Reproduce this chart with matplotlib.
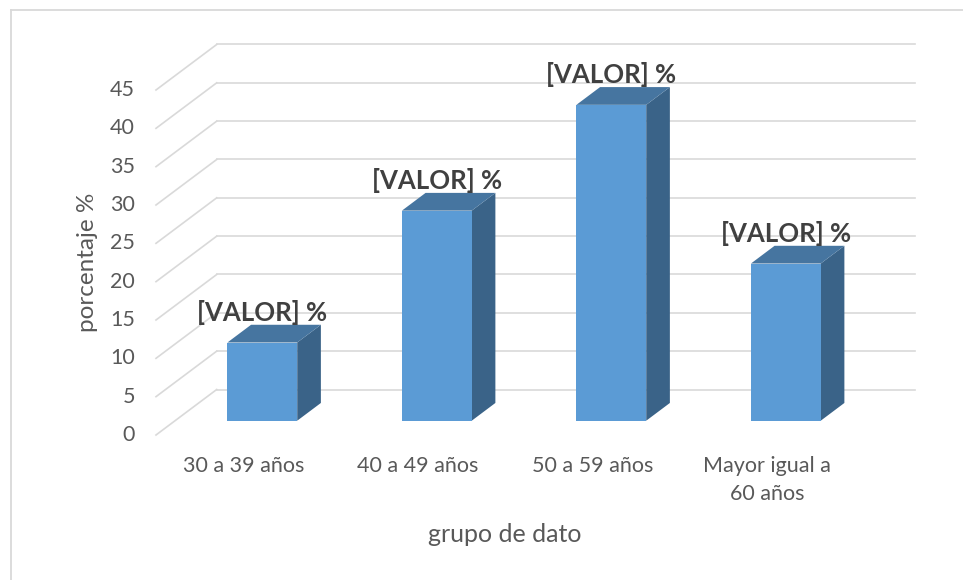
import matplotlib.pyplot as plt
from matplotlib.patches import Polygon, Rectangle
from matplotlib.lines import Line2D

# datos
categorias = ['30 a 39 años', '40 a 49 años', '50 a 59 años', 'Mayor igual a\n60 años']
valores = [10.2, 27.4, 41.2, 20.5]
ticks_y = [0, 5, 10, 15, 20, 25, 30, 35, 40, 45]
etiqueta = '[VALOR] %'

plt.rcParams['font.family'] = ['Lato', 'DejaVu Sans']

W, H = 963, 580
fig = plt.figure(figsize=(W / 100, H / 100), dpi=100)

# caja del área de trazado en pixeles (plano frontal)
x_izq, x_der, y_sup, y_inf = 156, 915, 45, 435
ax = fig.add_axes([x_izq / W, 1 - y_inf / H, (x_der - x_izq) / W, (y_inf - y_sup) / H])
px_cat = 174.5
px_val = 7.667
ax.set_xlim(0, (x_der - x_izq) / px_cat)
ax.set_ylim(0, (y_inf - y_sup) / px_val)
ax.axis('off')

# profundidad (oblicua)
DX = 60.7 / px_cat
DY = 45.5 / px_val
n = len(categorias)
grid_c = '#D9D9D9'

for v in ticks_y:
    ax.plot([0, DX], [v, v + DY], color=grid_c, lw=1.2, clip_on=False, zorder=1)
    ax.plot([DX, DX + n], [v + DY, v + DY], color=grid_c, lw=1.2, clip_on=False, zorder=1)
    ax.text(-0.12, v, str(v), ha='right', va='center', fontsize=15.5, color='#595959')

f = 0.314   # posición de la cara frontal en la profundidad
bd = 0.39   # profundidad de la barra
ancho = 0.4
c_front, c_top, c_side = '#5B9BD5', '#4675A0', '#3A6388'

for i, v in enumerate(valores):
    x0 = i + 0.5 - ancho / 2 + f * DX
    y0 = f * DY
    ox, oy = bd * DX, bd * DY
    ax.add_patch(Polygon([(x0 + ancho, y0), (x0 + ancho + ox, y0 + oy),
                          (x0 + ancho + ox, y0 + v + oy), (x0 + ancho, y0 + v)],
                         closed=True, fc=c_side, ec='none', zorder=3))
    ax.add_patch(Polygon([(x0, y0 + v), (x0 + ancho, y0 + v),
                          (x0 + ancho + ox, y0 + v + oy), (x0 + ox, y0 + v + oy)],
                         closed=True, fc=c_top, ec='none', zorder=3))
    ax.add_patch(Rectangle((x0, y0), ancho, v, fc=c_front, ec='none', zorder=4))
    ax.text(x0 + ancho / 2, y0 + v + oy, etiqueta, ha='center', va='bottom',
            fontsize=18.5, fontweight='bold', color='#404040', zorder=5)
    ax.text(i + 0.5, -2.8, categorias[i], ha='center', va='top', fontsize=15.5,
            color='#595959', linespacing=1.45)

fig.text(505 / W, 1 - 535 / H, 'grupo de dato', ha='center', va='center',
         fontsize=18, color='#595959')
fig.text(87 / W, 1 - 262 / H, 'porcentaje %', ha='center', va='center',
         rotation=90, fontsize=17.5, color='#595959')

# borde del gráfico
fig.add_artist(Line2D([10.5 / W, 10.5 / W], [0, 1 - 9.5 / H], color=grid_c, lw=1.3))
fig.add_artist(Line2D([10.5 / W, 1], [1 - 9.5 / H, 1 - 9.5 / H], color=grid_c, lw=1.3))

fig.savefig('out.png', dpi=100)
